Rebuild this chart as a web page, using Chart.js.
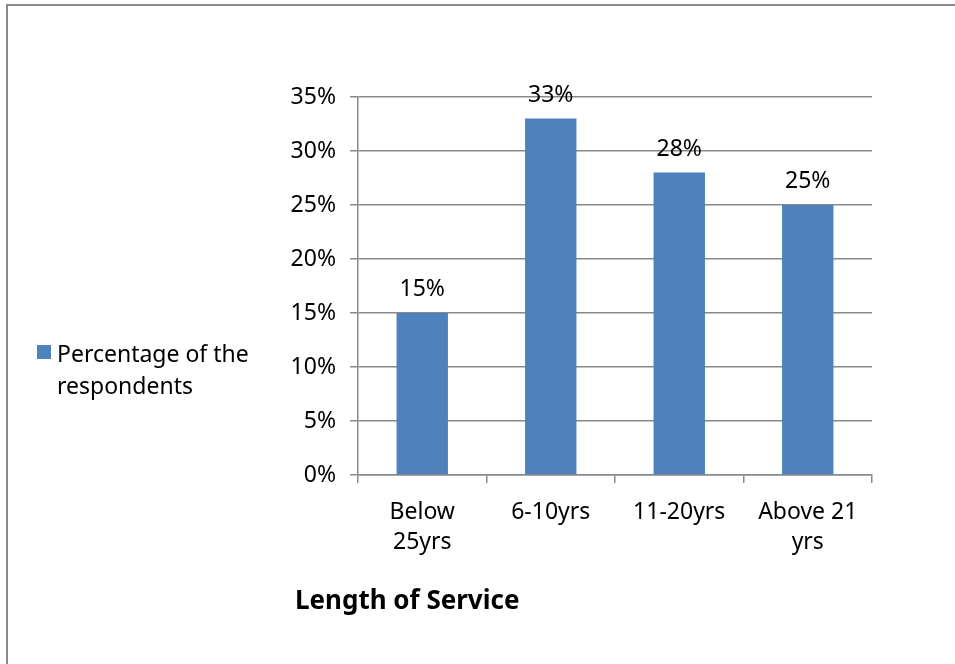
<!DOCTYPE html>
<html>
<head>
<meta charset="utf-8">
<script src="https://cdn.jsdelivr.net/npm/chart.js@4.4.1/dist/chart.umd.min.js"></script>
<style>
  html, body { margin: 0; padding: 0; background: #fff; }
  #wrap { width: 955px; height: 664px; }
</style>
</head>
<body>
<div id="wrap"><canvas id="serviceChart" width="955" height="664"></canvas></div>
<script>
let categories = [["Below", "25yrs"], "6-10yrs", "11-20yrs", ["Above 21", "yrs"]];
let seriesName = "Percentage of the respondents";
let seriesValues = [15, 33, 28, 25];
let yTicks = [0, 5, 10, 15, 20, 25, 30, 35];
let axisTitle = "Length of Service";

const FONT = "'Noto Sans', 'Open Sans', sans-serif";
const FONT_SIZE = 23;
const BAR_COLOR = "#4F81BD";
const GRID_COLOR = "#898989";

// frame, value labels, legend and axis title
const decorations = {
    id: "decorations",
    beforeDraw(chart) {
        const ctx = chart.ctx;
        ctx.save();
        ctx.strokeStyle = "#8a8a8a";
        ctx.lineWidth = 2;
        ctx.beginPath();
        ctx.moveTo(7, chart.height);
        ctx.lineTo(7, 5);
        ctx.lineTo(chart.width, 5);
        ctx.stroke();
        ctx.restore();
    },
    afterDatasetsDraw(chart) {
        const ctx = chart.ctx;
        ctx.save();
        ctx.fillStyle = "#000";
        ctx.font = FONT_SIZE + "px " + FONT;
        ctx.textAlign = "center";
        ctx.textBaseline = "alphabetic";
        chart.getDatasetMeta(0).data.forEach((bar, i) => {
            ctx.fillText(seriesValues[i] + "%", bar.x, bar.y - 17);
        });

        // legend
        ctx.fillStyle = BAR_COLOR;
        ctx.fillRect(37, 345, 14, 14);
        ctx.fillStyle = "#000";
        ctx.textAlign = "left";
        let words = seriesName.split(" ");
        ctx.fillText(words.slice(0, 3).join(" "), 57, 362);
        ctx.fillText(words.slice(3).join(" "), 57, 394);

        // x axis title
        ctx.font = "bold 26px " + FONT;
        ctx.fillText(axisTitle, 295, 609);
        ctx.restore();
    }
};

new Chart("serviceChart", {
    type: "bar",
    data: {
        labels: categories,
        datasets: [{
            label: seriesName,
            data: seriesValues,
            backgroundColor: BAR_COLOR,
            borderWidth: 0,
            categoryPercentage: 1,
            barPercentage: 0.4
        }]
    },
    options: {
        responsive: false,
        animation: false,
        layout: {
            padding: { left: 250, right: 83, top: 97, bottom: 0 }
        },
        plugins: {
            legend: { display: false },
            tooltip: { enabled: false }
        },
        scales: {
            x: {
                grid: {
                    display: true,
                    drawOnChartArea: false,
                    color: GRID_COLOR,
                    lineWidth: 1.5,
                    tickLength: 8
                },
                border: { color: GRID_COLOR, width: 1.5 },
                ticks: {
                    color: "#000",
                    font: { family: FONT, size: FONT_SIZE, lineHeight: 1.3 },
                    padding: 15,
                    maxRotation: 0,
                    autoSkip: false
                },
                afterFit(scale) { scale.height = 189; }
            },
            y: {
                min: 0,
                max: 35,
                afterBuildTicks(scale) {
                    scale.ticks = yTicks.map(v => ({ value: v }));
                },
                grid: {
                    color: GRID_COLOR,
                    lineWidth: 1.5,
                    tickLength: 8
                },
                border: { color: GRID_COLOR, width: 1.5 },
                ticks: {
                    color: "#000",
                    font: { family: FONT, size: FONT_SIZE },
                    padding: 14,
                    callback: v => v + "%"
                },
                afterFit(scale) { scale.width = 108; }
            }
        }
    },
    plugins: [decorations]
});
</script>
</body>
</html>
